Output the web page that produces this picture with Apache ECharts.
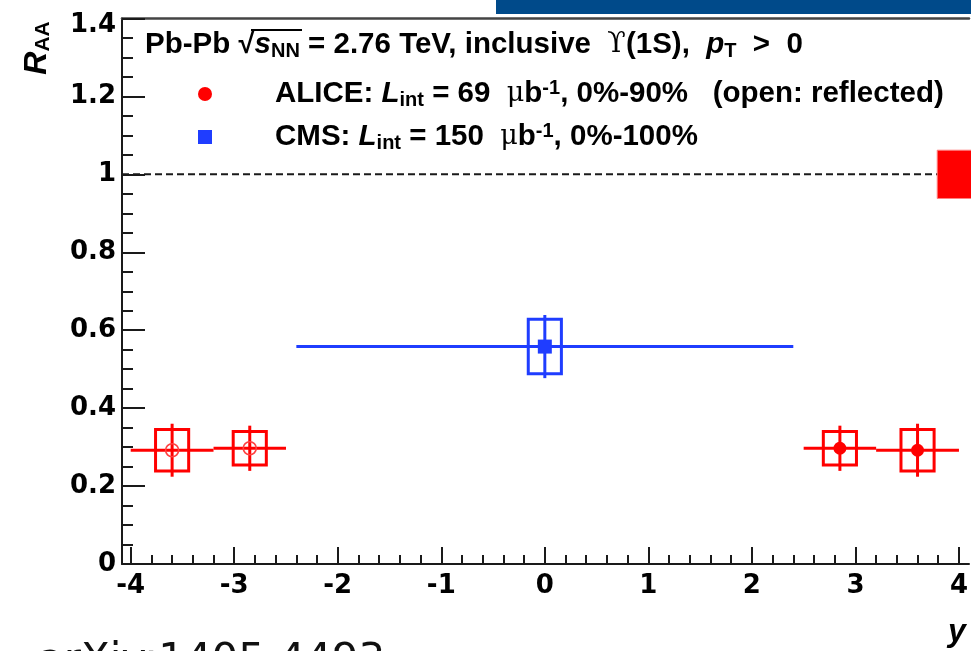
<!DOCTYPE html>
<html><head><meta charset="utf-8">
<script src="https://cdn.jsdelivr.net/npm/echarts@6/dist/echarts.min.js"></script>
<style>html,body{margin:0;padding:0;background:#fff}#c{width:971px;height:651px}</style>
</head><body><div id="c"></div><script>
// ---- data ----
const aliceRapidity = [2.85, 3.6];
const aliceBinLow = [2.5, 3.2];
const aliceBinHigh = [3.2, 4.0];
const aliceRaa = [0.297, 0.292];
const aliceStat = [0.058, 0.068];
const aliceSyst = [0.043, 0.053];
const cmsRapidity = [0];
const cmsBinLow = [-2.4];
const cmsBinHigh = [2.4];
const cmsRaa = [0.558];
const cmsStat = [0.081];
const cmsSyst = [0.07];
const globalUncCenter = [1.0];
const globalUncHalf = [0.062];
const globalBoxRange = [3.79, 4.4];
const unityLine = [[-4.0838, 1], [3.79, 1]];
const xTickLabels = ['-4','-3','-2','-1','0','1','2','3','4'];
const yTickLabels = ['0','0.2','0.4','0.6','0.8','1','1.2','1.4'];

// ---- styles ----
const RED = '#ff0000', BLUE = '#1f3dff', INK = '#1a1a1a';
const BOX_HALF_W = 0.16;
const TICKFONT = {fontFamily:'DejaVu Sans', fontWeight:'bold', fontSize:26, color:'#000'};

function buildItems(xs, lo, hi, v, st, sy, reflect) {
  return xs.map((x, i) => [reflect ? -x : x, v[i], reflect ? -hi[i] : lo[i], reflect ? -lo[i] : hi[i], st[i], sy[i]]);
}

function makeRender(color, marker) {
  return function (params, api) {
    const x = api.value(0), y = api.value(1), xlo = api.value(2), xhi = api.value(3);
    const st = api.value(4), sy = api.value(5);
    const c = api.coord([x, y]);
    const pl = api.coord([xlo, y]), ph = api.coord([xhi, y]);
    const s1 = api.coord([x, y + st]), s2 = api.coord([x, y - st]);
    const b1 = api.coord([x - BOX_HALF_W, y + sy]), b2 = api.coord([x + BOX_HALF_W, y - sy]);
    const ls = {stroke: color, lineWidth: 3, fill: null};
    const kids = [
      {type:'line', shape:{x1:pl[0], y1:pl[1], x2:ph[0], y2:ph[1]}, style:ls},
      {type:'line', shape:{x1:s1[0], y1:s1[1], x2:s2[0], y2:s2[1]}, style:ls},
      {type:'rect', shape:{x:b1[0], y:b1[1], width:b2[0]-b1[0], height:b2[1]-b1[1]}, style:{stroke:color, lineWidth:3, fill:null}}
    ];
    if (marker === 'circle') kids.push({type:'circle', shape:{cx:c[0], cy:c[1], r:6.5}, style:{fill:color}});
    else if (marker === 'open') kids.push({type:'circle', shape:{cx:c[0], cy:c[1], r:6.5}, style:{fill:null, stroke:'#ff4040', lineWidth:1.6}});
    else kids.push({type:'rect', shape:{x:c[0]-7, y:c[1]-7, width:14, height:14}, style:{fill:color}});
    return {type:'group', children:kids};
  };
}

const chart = echarts.init(document.getElementById('c'), null, {renderer:'canvas'});

const bRich = {fontFamily:'Liberation Sans', fontWeight:'bold', fontSize:29.5, lineHeight:32, fill:'#000'};
const rich = {
  b: bRich,
  bi: Object.assign({}, bRich, {fontStyle:'italic'}),
  sub: {fontFamily:'Liberation Sans', fontWeight:'bold', fontSize:20, lineHeight:10, verticalAlign:'bottom', fill:'#000'},
  sup: {fontFamily:'Liberation Sans', fontWeight:'bold', fontSize:20, lineHeight:12, verticalAlign:'top', fill:'#000'},
  sym: {fontFamily:'DejaVu Serif', fontWeight:'normal', fontSize:27, lineHeight:32, fill:'#000'}
};

const option = {
  backgroundColor:'#fff',
  animation:false,
  grid:[
    {left:130.7, right:9.3, top:18.5, bottom:87},
    {left:122, right:2, top:18.5, bottom:87}
  ],
  xAxis:[
    {type:'value', gridIndex:0, min:-4, max:4, interval:1,
     axisLine:{show:false, onZero:false}, splitLine:{show:false},
     axisTick:{show:true, inside:true, length:17, lineStyle:{color:INK, width:2}},
     minorTick:{show:true, splitNumber:5, length:9, lineStyle:{color:INK, width:2}},
     axisLabel:Object.assign({margin:9, formatter:v => xTickLabels[Math.round(v + 4)]}, TICKFONT)},
    {type:'value', gridIndex:1, min:-4.0838, max:4.0704, position:'bottom',
     axisLine:{show:true, onZero:false, lineStyle:{color:INK, width:2}}, axisTick:{show:false}, axisLabel:{show:false}, splitLine:{show:false}},
    {type:'value', gridIndex:1, min:-4.0838, max:4.0704, position:'top',
     axisLine:{show:true, onZero:false, lineStyle:{color:'#444', width:2.5}}, axisTick:{show:false}, axisLabel:{show:false}, splitLine:{show:false}}
  ],
  yAxis:[
    {type:'value', gridIndex:0, min:0, max:1.4, interval:0.2, offset:8.7, position:'left',
     axisLine:{show:true, onZero:false, lineStyle:{color:INK, width:2}}, splitLine:{show:false},
     axisTick:{show:true, inside:true, length:23, lineStyle:{color:INK, width:2}},
     minorTick:{show:true, splitNumber:4, length:11, lineStyle:{color:INK, width:2}},
     axisLabel:Object.assign({margin:6,
       formatter:v => { const i = Math.round(v / 0.2); return i === yTickLabels.length - 1 ? '{t|' + yTickLabels[i] + '}' : yTickLabels[i]; },
       rich:{t:{fontFamily:'DejaVu Sans', fontWeight:'bold', fontSize:26, color:'#000', padding:[14,0,0,0]}}}, TICKFONT)},
    {type:'value', gridIndex:1, show:false, min:0, max:1.4}
  ],
  series:[
    {type:'line', xAxisIndex:1, yAxisIndex:1, data:unityLine, clip:false, symbol:'none', silent:true,
     lineStyle:{color:INK, width:2, type:[7,4]}, z:1},
    {type:'custom', xAxisIndex:0, yAxisIndex:0, clip:false, z:2,
     data:[[globalBoxRange[0], globalUncCenter[0], globalBoxRange[1], globalUncHalf[0]]],
     renderItem:function(params, api){
       const p1 = api.coord([api.value(0), api.value(1) + api.value(3)]);
       const p2 = api.coord([api.value(2), api.value(1) - api.value(3)]);
       return {type:'rect', shape:{x:p1[0], y:p1[1], width:p2[0]-p1[0], height:p2[1]-p1[1]}, style:{fill:RED, stroke:'#ff8080', lineWidth:1}};
     }},
    {type:'custom', name:'CMS', xAxisIndex:0, yAxisIndex:0, clip:false, z:3,
     data:buildItems(cmsRapidity, cmsBinLow, cmsBinHigh, cmsRaa, cmsStat, cmsSyst, false),
     renderItem:makeRender(BLUE, 'square')},
    {type:'custom', name:'ALICE', xAxisIndex:0, yAxisIndex:0, clip:false, z:3,
     data:buildItems(aliceRapidity, aliceBinLow, aliceBinHigh, aliceRaa, aliceStat, aliceSyst, false),
     renderItem:makeRender(RED, 'circle')},
    {type:'custom', name:'ALICE reflected', xAxisIndex:0, yAxisIndex:0, clip:false, z:3,
     data:buildItems(aliceRapidity, aliceBinLow, aliceBinHigh, aliceRaa, aliceStat, aliceSyst, true),
     renderItem:makeRender(RED, 'open')}
  ],
  graphic:[
    {type:'rect', left:496, top:0, shape:{width:475, height:14}, style:{fill:'#004a8a'}, z:10},
    {type:'text', x:145, y:45, z:10, style:{text:'{b|Pb-Pb }{b|√}{bi|s}{sub|NN}{b| = 2.76 TeV, inclusive  }{sym|ϒ}{b|(1S),  }{bi|p}{sub|T}{b|  >  0}', rich:rich, align:'left', verticalAlign:'middle'}},
    {type:'line', z:10, shape:{x1:251, y1:30, x2:302, y2:30}, style:{stroke:'#000', lineWidth:2}},
    {type:'text', x:275, y:94, z:10, style:{text:'{b|ALICE: }{bi|L}{sub|int}{b| = 69  }{sym|μ}{b|b}{sup|-1}{b|, 0%-90%   (open: reflected)}', rich:rich, align:'left', verticalAlign:'middle'}},
    {type:'text', x:275, y:137, z:10, style:{text:'{b|CMS: }{bi|L}{sub|int}{b| = 150  }{sym|μ}{b|b}{sup|-1}{b|, 0%-100%}', rich:rich, align:'left', verticalAlign:'middle'}},
    {type:'circle', z:10, shape:{cx:205, cy:94, r:7}, style:{fill:RED}},
    {type:'rect', z:10, shape:{x:198, y:130, width:14, height:14}, style:{fill:BLUE}},
    {type:'text', x:37, y:48, rotation:Math.PI/2, z:10, style:{text:'{r|R}{s|AA}', align:'center', verticalAlign:'middle',
      rich:{r:{fontFamily:'Liberation Sans', fontWeight:'bold', fontStyle:'italic', fontSize:32, lineHeight:34, fill:'#000'},
            s:{fontFamily:'Liberation Sans', fontWeight:'bold', fontSize:21, lineHeight:12, verticalAlign:'bottom', fill:'#000'}}}},
    {type:'text', x:957, y:632, z:10, style:{text:'y', font:'italic bold 32px "Liberation Sans"', fill:'#000', align:'center', verticalAlign:'middle'}},
    {type:'text', x:38, y:662, z:10, style:{text:'arXiv:1405.4493', font:'42px "DejaVu Sans"', fill:'#111', align:'left', verticalAlign:'middle'}}
  ]
};
chart.setOption(option);
</script></body></html>
